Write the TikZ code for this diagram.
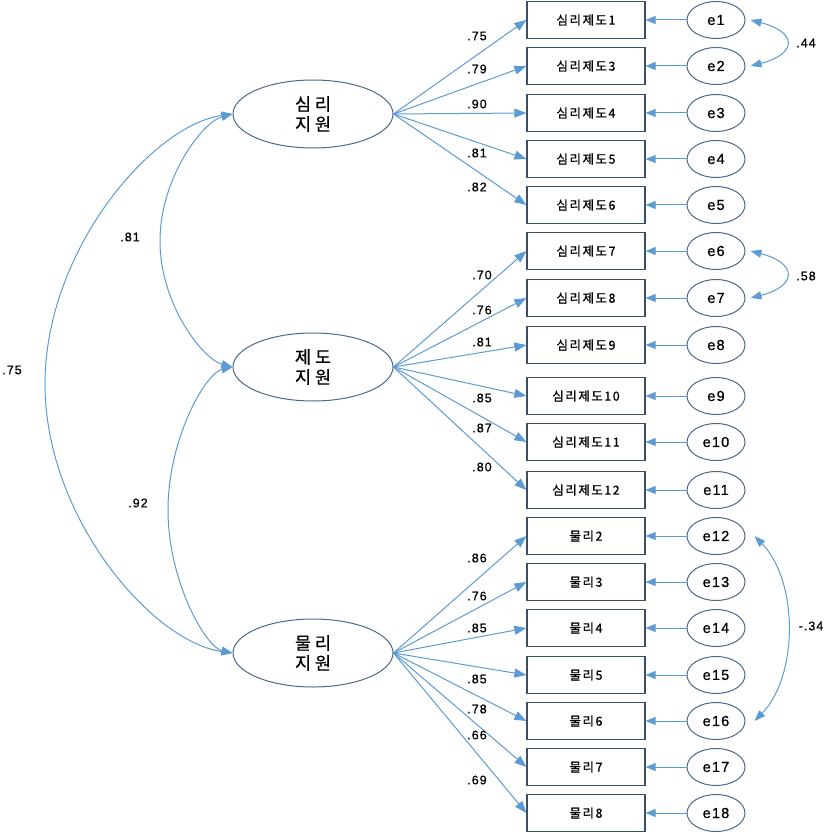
\documentclass[tikz,border=0pt]{standalone}
\usepackage{fontspec}
\setmainfont{Liberation Sans}[LetterSpace=8,FakeBold=0.8]
\newfontfamily\kr{Noto Sans CJK KR}[LetterSpace=12,FakeBold=0.9]
\newfontfamily\krwide{Noto Sans CJK KR}[LetterSpace=22,FakeBold=0.6]
\usepackage{tikz}
\usetikzlibrary{arrows.meta}
\usetikzlibrary{shapes.geometric}
\definecolor{pathblue}{RGB}{91,155,213}
\definecolor{boxgray}{RGB}{58,78,105}
\definecolor{ovalgray}{RGB}{75,105,140}
\tikzset{
  sem/.style={
    latent/.style={ellipse, draw=ovalgray, line width=1pt, minimum width=160pt, minimum height=68pt, inner sep=0pt, align=center, font={\krwide\fontsize{17.5}{20}\selectfont}},
    item box/.style={rectangle, draw=boxgray, line width=1.2pt, minimum width=118pt, minimum height=37pt, inner sep=0pt, font={\kr\fontsize{12.5}{13}\selectfont}},
    error/.style={ellipse, draw=ovalgray, line width=1pt, minimum width=58pt, minimum height=37pt, inner sep=0pt, font={\fontsize{14.5}{15}\selectfont}},
    path arrow/.style={pathblue, line width=1pt, -{Triangle[length=12pt,width=9pt]}},
    error arrow/.style={pathblue, line width=1pt, -{Triangle[length=10pt,width=8pt]}},
    cov arrow/.style={pathblue, line width=1pt, {Triangle[length=11pt,width=8pt]}-{Triangle[length=11pt,width=8pt]}},
    coef/.style={font={\fontsize{12.5}{13}\selectfont}, inner sep=0pt},
  }
}
% one latent factor with its items and error terms
\newcommand{\indicators}[3]{
    \foreach \yy/\nm/\lbl/\err/\val/\vy in {#3}{
        \node[item box] (\nm) at (586,\yy) {\lbl};
        \node[error] (e\err) at (716,\yy) {e\err};
        \draw[path arrow] (#1.east) -- (\nm.west);
        \draw[error arrow] (e\err.west) -- (\nm.east);
        \node[coef] (c\nm) at (#2,\vy) {\val};
    }
}

\begin{document}
\begin{tikzpicture}[sem, x=1pt, y=-1pt]
    \useasboundingbox (0,0) rectangle (827,834);

    \node[latent] (ps) at (313,114) {심리\\지원};
    \node[latent] (js) at (313,367) {제도\\지원};
    \node[latent] (ms) at (313,653) {물리\\지원};

    \indicators{ps}{477}{
        20/sr1/심리제도1/1/.75/36,
        66/sr3/심리제도3/2/.79/69,
        113/sr4/심리제도4/3/.90/104,
        159/sr5/심리제도5/4/.81/153,
        205/sr6/심리제도6/5/.82/187}
    \indicators{js}{482}{
        251/sr7/심리제도7/6/.70/275,
        298/sr8/심리제도8/7/.76/310,
        345/sr9/심리제도9/8/.81/342,
        396/sr10/심리제도10/9/.85/398,
        442/sr11/심리제도11/10/.87/428,
        490/sr12/심리제도12/11/.80/467}
    \indicators{ms}{477}{
        536/mr2/물리2/12/.86/558,
        582/mr3/물리3/13/.76/596,
        628/mr4/물리4/14/.85/628,
        675/mr5/물리5/15/.85/679,
        721/mr6/물리6/16/.78/709,
        767/mr7/물리7/17/.66/735,
        813/mr8/물리8/18/.69/780}

    % factor correlations
    \coordinate (m81) at (160,241);
    \coordinate (m92) at (168,510);
    \coordinate (m75) at (45,384);
    \draw[cov arrow] (ps.west) .. controls +(-30,8) and +(0,-63) .. (m81)
        .. controls +(0,63) and +(-30,-8) .. (js.west);
    \draw[cov arrow] (js.west) .. controls +(-27,6) and +(0,-71) .. (m92)
        .. controls +(0,71) and +(-27,-6) .. (ms.west);
    \draw[cov arrow] (ps.west) .. controls +(-80,11) and +(0,-134) .. (m75)
        .. controls +(0,134) and +(-80,-11) .. (ms.west);
    \node[coef] (r81) at (130,237) {.81};
    \node[coef] (r92) at (138,503) {.92};
    \node[coef] (r75) at (12,370) {.75};

    % error covariances
    \draw[cov arrow] ([xshift=5pt]e1.east) .. controls +(47,12) and +(47,-12) .. ([xshift=5pt]e2.east);
    \draw[cov arrow] ([xshift=5pt]e6.east) .. controls +(47,12) and +(47,-12) .. ([xshift=5pt]e7.east);
    \draw[cov arrow] ([xshift=9pt]e12.east) .. controls +(44,45) and +(44,-45) .. ([xshift=9pt]e16.east);
    \node[coef] (r44) at (806,43) {.44};
    \node[coef] (r58) at (806,276) {.58};
    \node[coef] (r34) at (811,626) {-.34};
\end{tikzpicture}
\end{document}
